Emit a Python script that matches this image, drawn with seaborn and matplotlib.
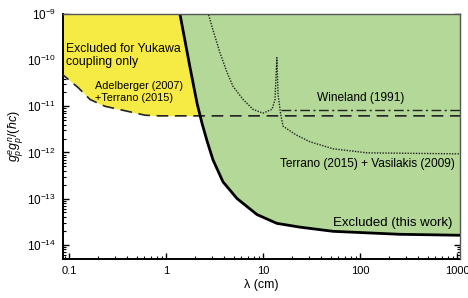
import matplotlib
matplotlib.use("Agg")
import matplotlib.pyplot as plt
import numpy as np
import pandas as pd
import seaborn as sns
from matplotlib.ticker import LogLocator, NullFormatter

# this work: excluded region boundary (thick line)
lam_this = [1.38, 1.77, 2.09, 2.35, 2.65, 3.05, 3.87, 5.4, 8.67, 13.9, 24.1, 52.7, 258, 1100]
g_this = [1.1e-9, 6.9e-11, 1.16e-11, 4.3e-12, 1.77e-12, 6.9e-13, 2.3e-13, 1.0e-13, 4.5e-14,
          2.9e-14, 2.4e-14, 1.95e-14, 1.68e-14, 1.6e-14]

# Adelberger (2007) + Terrano (2015), dashed
lam_adel = [0.08, 0.124, 0.165, 0.235, 0.40, 0.61, 0.87, 2.0, 1100]
g_adel = [5.5e-11, 2.55e-11, 1.4e-11, 1.0e-11, 7.8e-12, 6.4e-12, 6.2e-12, 6.2e-12, 6.2e-12]

# Wineland (1991), dash-dot
lam_wine = [15.5, 1100]
g_wine = [8.2e-12, 8.2e-12]

# Terrano (2015) + Vasilakis (2009), dotted
lam_tv = [2.7, 3.05, 3.6, 4.26, 4.91, 6.22, 7.88, 10.0, 12.4, 13.3, 13.9, 14.3, 15.2,
          16.1, 21.9, 30.5, 52.6, 118, 1100]
g_tv = [1.1e-9, 4.5e-10, 1.45e-10, 5.4e-11, 2.7e-11, 1.41e-11, 8.6e-12, 7.1e-12, 8.6e-12,
        1.41e-11, 1.13e-10, 1.8e-11, 6.8e-12, 3.7e-12, 2.4e-12, 1.7e-12, 1.2e-12, 9.8e-13, 9.3e-13]

YELLOW = "#F6EB45"
GREEN = "#B3D897"

sns.set_theme(style="ticks")
plt.rcParams["font.family"] = ["Liberation Sans", "DejaVu Sans"]
plt.rcParams["mathtext.fontset"] = "custom"
plt.rcParams["mathtext.rm"] = "Liberation Sans"
plt.rcParams["mathtext.it"] = "Liberation Sans:italic"
plt.rcParams["mathtext.bf"] = "Liberation Sans:bold"

fig = plt.figure(figsize=(4.68, 2.98), dpi=100)
ax = fig.add_axes([0.1346, 0.1309, 0.8483, 0.8221])

YTOP = 1e-9
ax.fill_between(lam_adel, g_adel, YTOP, color=YELLOW, lw=0, zorder=1)
ax.fill_between(lam_this, g_this, YTOP, color=GREEN, lw=0, zorder=2)

df_this = pd.DataFrame({"lam": lam_this, "g": g_this})
df_adel = pd.DataFrame({"lam": lam_adel, "g": g_adel})
df_wine = pd.DataFrame({"lam": lam_wine, "g": g_wine})
df_tv = pd.DataFrame({"lam": lam_tv, "g": g_tv})

sns.lineplot(data=df_adel, x="lam", y="g", ax=ax, color="#222222", lw=1.2,
             sort=False, estimator=None, zorder=3).lines[-1].set_dashes((7, 4))
sns.lineplot(data=df_wine, x="lam", y="g", ax=ax, color="#222222", lw=1.0,
             sort=False, estimator=None, zorder=3).lines[-1].set_dashes((7, 2.5, 1.5, 2.5))
sns.lineplot(data=df_tv, x="lam", y="g", ax=ax, color="#222222", lw=1.0,
             sort=False, estimator=None, zorder=3).lines[-1].set_dashes((1, 1))
sns.lineplot(data=df_this, x="lam", y="g", ax=ax, color="black", lw=2.0,
             sort=False, estimator=None, zorder=4)

ax.set_xscale("log")
ax.set_yscale("log")
ax.set_xlim(0.0867, 1074)
ax.set_ylim(4.9e-15, 1e-9)

ax.set_xticks([0.1, 1, 10, 100, 1000])
ax.set_xticklabels(["0.1", "1", "10", "100", "1000"])
ax.set_yticks([1e-14, 1e-13, 1e-12, 1e-11, 1e-10, 1e-9])
ax.yaxis.set_minor_locator(LogLocator(base=10, subs=np.arange(2, 10), numticks=20))
ax.yaxis.set_minor_formatter(NullFormatter())
ax.xaxis.set_minor_locator(LogLocator(base=10, subs=np.arange(2, 10), numticks=20))
ax.xaxis.set_minor_formatter(NullFormatter())

ax.tick_params(which="both", direction="in", top=True, right=True, colors="black")
ax.tick_params(axis="y", labelsize=8.5)
ax.tick_params(axis="x", labelsize=8)
ax.tick_params(which="major", length=4, width=1.0, pad=5)
ax.tick_params(which="minor", length=2, width=0.8)

for side in ["left", "bottom"]:
    ax.spines[side].set_color("black")
    ax.spines[side].set_linewidth(1.4)
for side in ["top", "right"]:
    ax.spines[side].set_color("#555555")
    ax.spines[side].set_linewidth(1.0)
    ax.spines[side].set_zorder(5)

ax.set_xlabel("λ (cm)", fontsize=9, labelpad=2, color="black")
ax.set_ylabel(r"$g_p^e g_p^n/(\hbar c)$", fontsize=9, labelpad=1, color="black")

kw = dict(color="black", zorder=6, va="center")
ax.text(0.093, 1.25e-10, "Excluded for Yukawa\ncoupling only", fontsize=8.8, ha="left",
        linespacing=1.15, **kw)
ax.text(0.527, 2.8e-11, "Adelberger (2007)", fontsize=7.8, ha="center", **kw)
ax.text(0.468, 1.48e-11, "+Terrano (2015)", fontsize=7.8, ha="center", **kw)
ax.text(102, 1.48e-11, "Wineland (1991)", fontsize=8.6, ha="center", **kw)
ax.text(955, 5.6e-13, "Terrano (2015) + Vasilakis (2009)", fontsize=8.6, ha="right", **kw)
ax.text(890, 3.0e-14, "Excluded (this work)", fontsize=9.5, ha="right", **kw)

fig.savefig("out.png", dpi=100)
